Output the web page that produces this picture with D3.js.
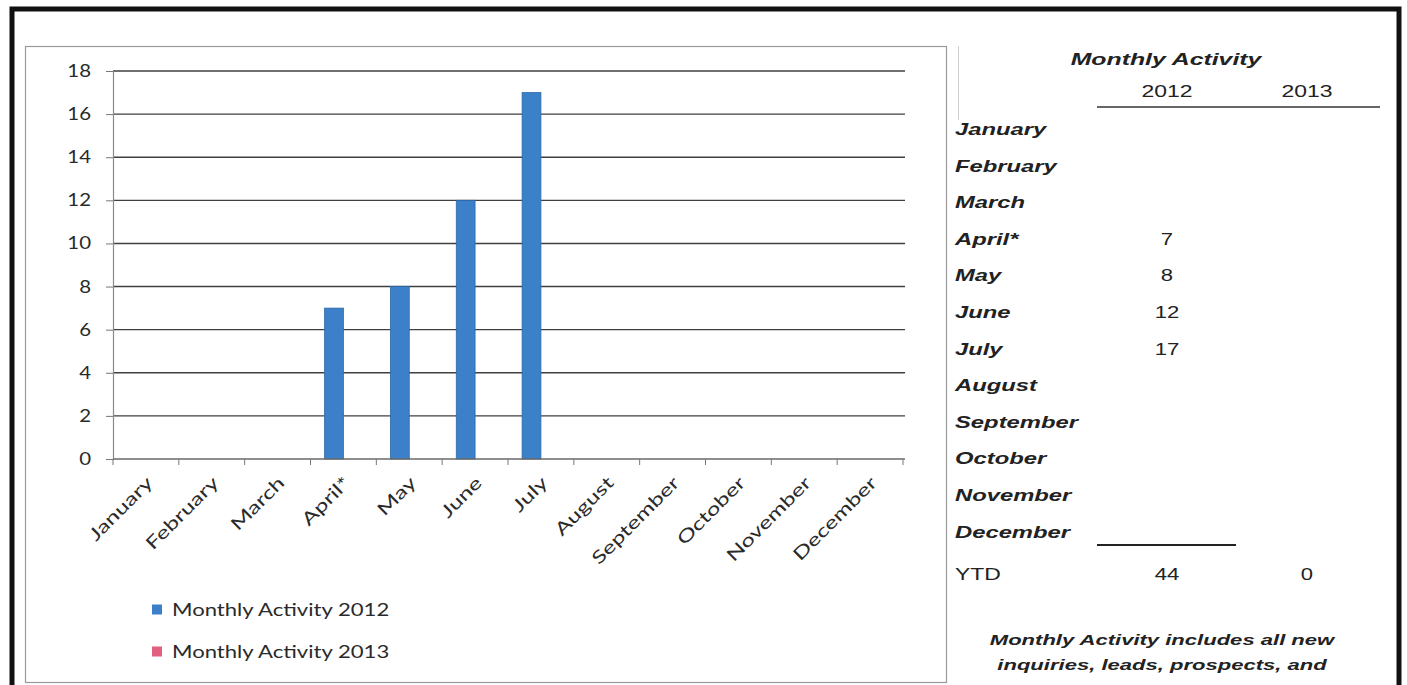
<!DOCTYPE html>
<html><head><meta charset="utf-8">
<script src="https://cdn.jsdelivr.net/npm/d3@7"></script>
<style>
html,body{margin:0;padding:0;background:#fff;}
svg{display:block;}
</style></head>
<body>
<svg id="c" width="1407" height="685"></svg>
<script>
// ---- data ----
const months = ["January","February","March","April*","May","June","July","August","September","October","November","December"];
const seriesNames = ["Monthly Activity 2012","Monthly Activity 2013"];
const seriesYears = ["2012","2013"];
const values2012 = [null,null,null,7,8,12,17,null,null,null,null,null];
const values2013 = [null,null,null,null,null,null,null,null,null,null,null,null];
const yTicks = [0,2,4,6,8,10,12,14,16,18];
const tableTitle = "Monthly Activity";
const footnote = ["Monthly Activity includes all new","inquiries, leads, prospects, and"];
const seriesColors = ["#3b80c9","#e0607f"];

const svg = d3.select("#c");
const chartFont = "Lato, 'Open Sans', sans-serif";
const tableFont = "'Liberation Sans', Arial, sans-serif";

// outer frame
svg.append("rect").attr("x",12).attr("y",9).attr("width",1387).attr("height",720)
  .attr("fill","none").attr("stroke","#111").attr("stroke-width",5);
// chart frame
svg.append("rect").attr("x",25.5).attr("y",46.5).attr("width",921).attr("height",636)
  .attr("fill","none").attr("stroke","#9a9a9a").attr("stroke-width",1.2);
svg.append("line").attr("x1",958.5).attr("x2",958.5).attr("y1",46).attr("y2",120)
  .attr("stroke","#cfcfcf");

// scales
const plot = {l:113, r:903, t:71, b:459};
const x = d3.scaleBand().domain(months).range([plot.l, plot.r]).padding(0);
const xs = d3.scaleBand().domain(seriesYears).range([0, x.bandwidth()]).paddingInner(0).paddingOuter(0.75);
const y = d3.scaleLinear().domain([0,18]).range([plot.b, plot.t]);

// gridlines
svg.append("g").selectAll("line").data(yTicks.filter(d=>d>0)).join("line")
  .attr("x1",plot.l).attr("x2",plot.r+2)
  .attr("y1",d=>y(d)).attr("y2",d=>y(d))
  .attr("stroke","#404040").attr("stroke-width",1.4);

// y axis
const yAxis = d3.axisLeft(y).tickValues(yTicks).tickSize(7).tickPadding(0);
const gy = svg.append("g").attr("transform",`translate(${plot.l},0)`).call(yAxis);
gy.select(".domain").attr("stroke","#8a8a8a").attr("stroke-width",1.2);
gy.selectAll(".tick line").attr("stroke","#777");
gy.selectAll(".tick text").attr("font-family",chartFont).attr("font-size",17).attr("fill","#2a2a2a")
  .attr("x",0).attr("transform","translate(-22,0) scale(1.2,1)");

// bars
const series = [values2012, values2013];
series.forEach((vals,si)=>{
  svg.append("g").selectAll("rect").data(months.map((m,i)=>({m,v:vals[i]})).filter(d=>d.v!=null)).join("rect")
    .attr("x",d=>x(d.m)+xs(seriesYears[si]))
    .attr("width",xs.bandwidth())
    .attr("y",d=>y(d.v))
    .attr("height",d=>y(0)-y(d.v))
    .attr("fill",seriesColors[si])
    .attr("stroke","#2c6aa8").attr("stroke-width",0.8);
});

// x axis
const gx = svg.append("g").attr("transform",`translate(0,${plot.b})`);
gx.append("line").attr("x1",plot.l).attr("x2",plot.r+2).attr("y1",0).attr("y2",0)
  .attr("stroke","#6a6a6a").attr("stroke-width",1.4);
const bounds = months.map(m=>x(m)).concat([x(months[months.length-1])+x.bandwidth()]);
gx.selectAll("line.tk").data(bounds).join("line").attr("class","tk")
  .attr("x1",d=>d).attr("x2",d=>d).attr("y1",0).attr("y2",6).attr("stroke","#777");
gx.selectAll("text").data(months).join("text")
  .attr("transform",d=>`translate(${x(d)+x.bandwidth()/2+8},${25}) rotate(-45) scale(1.38,1)`)
  .attr("text-anchor","end")
  .attr("font-family",chartFont).attr("font-size",17.5).attr("fill","#2a2a2a")
  .text(d=>d);

// legend
const lg = svg.append("g").attr("transform","translate(152,603)");
seriesNames.forEach((n,i)=>{
  const g = lg.append("g").attr("transform",`translate(0,${i*42})`);
  g.append("rect").attr("width",10).attr("height",10).attr("y",1.5).attr("fill",seriesColors[i]);
  g.append("text").attr("x",0).attr("y",12.5)
    .attr("font-family",chartFont).attr("font-size",17).attr("fill","#2a2a2a")
    .text(n).attr("transform","translate(20,0) scale(1.3,1)");
});

// ---- table ----
const col2012 = 1167, col2013 = 1307, labelX = 955;
const rowY = d3.scaleLinear().domain([0,11]).range([135,537.6]);
const tt = svg.append("g").attr("font-family",tableFont).attr("fill","#222");
function stext(g,xp,yp,txt,opts){
  const t = g.append("text").attr("transform",`translate(${xp},${yp}) scale(${opts.sx||1.38},1)`)
    .attr("text-anchor",opts.anchor||"start")
    .attr("font-size",opts.size||17)
    .attr("font-style",opts.italic===false?"normal":"italic")
    .attr("font-weight",opts.bold?"bold":"normal")
    .text(txt);
  return t;
}
stext(tt,1166,65,tableTitle,{anchor:"middle",bold:true,size:17,sx:1.46});
stext(tt,col2012,97,seriesYears[0],{anchor:"middle",italic:false,size:17,sx:1.35});
stext(tt,col2013,97,seriesYears[1],{anchor:"middle",italic:false,size:17,sx:1.35});
tt.append("line").attr("x1",1097).attr("x2",1380).attr("y1",107).attr("y2",107).attr("stroke","#333").attr("stroke-width",1.5);

months.forEach((m,i)=>{
  stext(tt,labelX,rowY(i),m,{bold:true,size:17,sx:1.4});
  if(values2012[i]!=null) stext(tt,col2012,rowY(i),String(values2012[i]),{anchor:"middle",italic:false,size:17,sx:1.3});
  if(values2013[i]!=null) stext(tt,col2013,rowY(i),String(values2013[i]),{anchor:"middle",italic:false,size:17,sx:1.3});
});
tt.append("line").attr("x1",1097).attr("x2",1236).attr("y1",545).attr("y2",545).attr("stroke","#222").attr("stroke-width",2);
const ytd2012 = d3.sum(values2012.filter(v=>v!=null));
const ytd2013 = d3.sum(values2013.filter(v=>v!=null));
stext(tt,labelX,580,"YTD",{italic:false,size:17,sx:1.35});
stext(tt,col2012,580,String(ytd2012),{anchor:"middle",italic:false,size:17,sx:1.3});
stext(tt,col2013,580,String(ytd2013),{anchor:"middle",italic:false,size:17,sx:1.3});
footnote.forEach((l,i)=>stext(tt,1162,645+i*25,l,{anchor:"middle",bold:true,size:15,sx:1.47}));
</script>
</body></html>
